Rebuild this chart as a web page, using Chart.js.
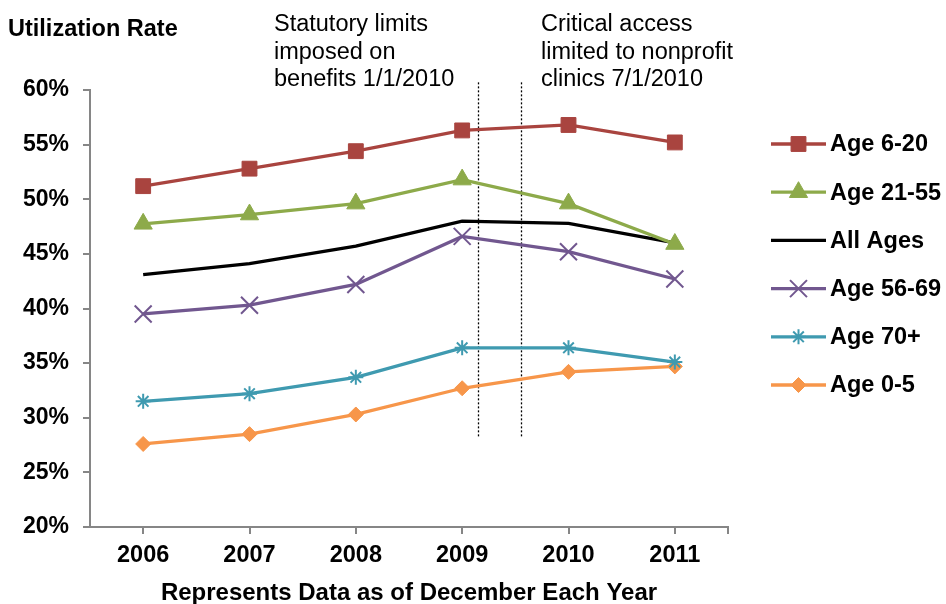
<!DOCTYPE html>
<html><head><meta charset="utf-8">
<script src="https://cdn.jsdelivr.net/npm/chart.js@4"></script>
<style>html,body{margin:0;padding:0;background:#fff}#wrap{width:946px;height:604px}</style>
</head><body><div id="wrap"><canvas id="c" width="946" height="604"></canvas></div>
<script>
// ---- data ----
const years = ['2006', '2007', '2008', '2009', '2010', '2011'];
const age6to20 = [51.2, 52.8, 54.4, 56.3, 56.8, 55.2];
const age21to55 = [47.75, 48.6, 49.6, 51.8, 49.6, 45.9];
const allAges = [43.1, 44.1, 45.7, 48.0, 47.8, 46.0];
const age56to69 = [39.5, 40.3, 42.2, 46.6, 45.2, 42.7];
const age70plus = [31.5, 32.2, 33.7, 36.4, 36.4, 35.1];
const age0to5 = [27.6, 28.5, 30.3, 32.7, 34.2, 34.7];
const seriesNames = ['Age 6-20', 'Age 21-55', 'All Ages', 'Age 56-69', 'Age 70+', 'Age 0-5'];
const yMin = 20, yMax = 60, yStep = 5;
const eventPositions = [3.15, 3.55];          // category units (between 2009 and 2010)
const eventRange = [28.2, 60.7];               // value range the dotted lines span
const eventLabels = [
  ['Statutory limits', 'imposed on', 'benefits 1/1/2010'],
  ['Critical access', 'limited to nonprofit', 'clinics 7/1/2010']
];
const yTitle = 'Utilization Rate';
const xTitle = 'Represents Data as of December Each Year';

// ---- styling ----
const FONT = '"Liberation Sans", Arial, sans-serif';
Chart.defaults.font.family = FONT;
const AXIS = '#868686';

function mk(label, data, color, style, radius, bw) {
  return {
    label, data, borderColor: color, backgroundColor: color,
    borderWidth: 3.3, pointStyle: style, pointRadius: radius,
    pointBackgroundColor: color, pointBorderColor: color, pointBorderWidth: bw,
    pointHoverRadius: radius, tension: 0, fill: false
  };
}
const datasets = [
  mk(seriesNames[0], age6to20, '#A9443F', 'rect', 10.5, 1),
  mk(seriesNames[1], age21to55, '#8DAA4A', 'triangle', 10.5, 1),
  mk(seriesNames[2], allAges, '#000000', 'circle', 0, 0),
  mk(seriesNames[3], age56to69, '#71578F', 'crossRot', 12, 2),
  mk(seriesNames[4], age70plus, '#3F9AB0', 'star', 7.5, 2),
  mk(seriesNames[5], age0to5, '#F7964A', 'rectRot', 7.5, 1)
];

const overlay = {
  id: 'overlay',
  beforeDatasetsDraw(chart) {
    const { ctx, scales: { x, y } } = chart;
    ctx.save();
    ctx.strokeStyle = '#000';
    ctx.lineWidth = 1.3;
    ctx.setLineDash([2, 2]);
    eventPositions.forEach(p => {
      const px = Math.round(x.getPixelForValue(p)) + 0.5;
      ctx.beginPath();
      ctx.moveTo(px, y.getPixelForValue(eventRange[1]));
      ctx.lineTo(px, y.getPixelForValue(eventRange[0]));
      ctx.stroke();
    });
    ctx.restore();
  },
  afterDraw(chart) {
    const { ctx, scales: { x, y } } = chart;
    ctx.save();
    // right end tick of x axis
    ctx.strokeStyle = AXIS; ctx.lineWidth = 2;
    ctx.beginPath(); ctx.moveTo(x.right, y.bottom); ctx.lineTo(x.right, y.bottom + 7); ctx.stroke();

    // y title
    ctx.fillStyle = '#000';
    ctx.font = 'bold 23.5px ' + FONT;
    ctx.textAlign = 'left'; ctx.textBaseline = 'alphabetic';
    ctx.fillText(yTitle, 8, 36);

    // annotations
    ctx.font = '23.5px ' + FONT;
    const ax = [274, 541];
    eventLabels.forEach((lines, i) => {
      lines.forEach((t, j) => ctx.fillText(t, ax[i], 31 + j * 27.6));
    });

    // legend
    const lx0 = 771, lx1 = 826, tx = 830, top = 144, gap = 48.2;
    chart.data.datasets.forEach((ds, i) => {
      const ry = top + i * gap;
      ctx.strokeStyle = ds.borderColor; ctx.lineWidth = ds.borderWidth;
      ctx.setLineDash([]);
      ctx.beginPath(); ctx.moveTo(lx0, ry); ctx.lineTo(lx1, ry); ctx.stroke();
      if (ds.pointRadius > 0) {
        ctx.fillStyle = ds.pointBackgroundColor; ctx.strokeStyle = ds.pointBorderColor;
        ctx.lineWidth = ds.pointBorderWidth;
        Chart.helpers.drawPoint(ctx, { pointStyle: ds.pointStyle, radius: ds.pointRadius, borderWidth: ds.pointBorderWidth, rotation: 0 }, (lx0 + lx1) / 2, ry);
      }
      ctx.fillStyle = '#000';
      ctx.font = 'bold 23.5px ' + FONT;
      ctx.textBaseline = 'middle';
      ctx.fillText(ds.label, tx, ry + 1);
    });
    ctx.restore();
  }
};

new Chart(document.getElementById('c'), {
  type: 'line',
  data: { labels: years, datasets },
  options: {
    responsive: false, animation: false, devicePixelRatio: 1,
    layout: { padding: { left: 0, top: 90, right: 218, bottom: 0 } },
    plugins: { legend: { display: false }, tooltip: { enabled: false } },
    scales: {
      y: {
        min: yMin, max: yMax,
        ticks: { stepSize: yStep, callback: v => v + '%', color: '#000', padding: 14,
                 font: { size: 23, weight: 'bold' } },
        grid: { drawOnChartArea: false, tickLength: 7, color: AXIS, lineWidth: 2 },
        border: { color: AXIS, width: 2 },
        afterFit: s => { s.width = 90; }
      },
      x: {
        offset: true,
        ticks: { color: '#000', padding: 7, font: { size: 23.5, weight: 'bold' }, maxRotation: 0 },
        grid: { offset: false, drawOnChartArea: false, tickLength: 7, color: AXIS, lineWidth: 2 },
        border: { color: AXIS, width: 2 },
        title: { display: true, text: xTitle, color: '#000',
                 font: { size: 24, weight: 'bold', lineHeight: 1 }, padding: { top: 0, bottom: -1 } },
        afterFit: s => { s.height = 77; }
      }
    }
  },
  plugins: [overlay]
});
</script>
</body></html>
